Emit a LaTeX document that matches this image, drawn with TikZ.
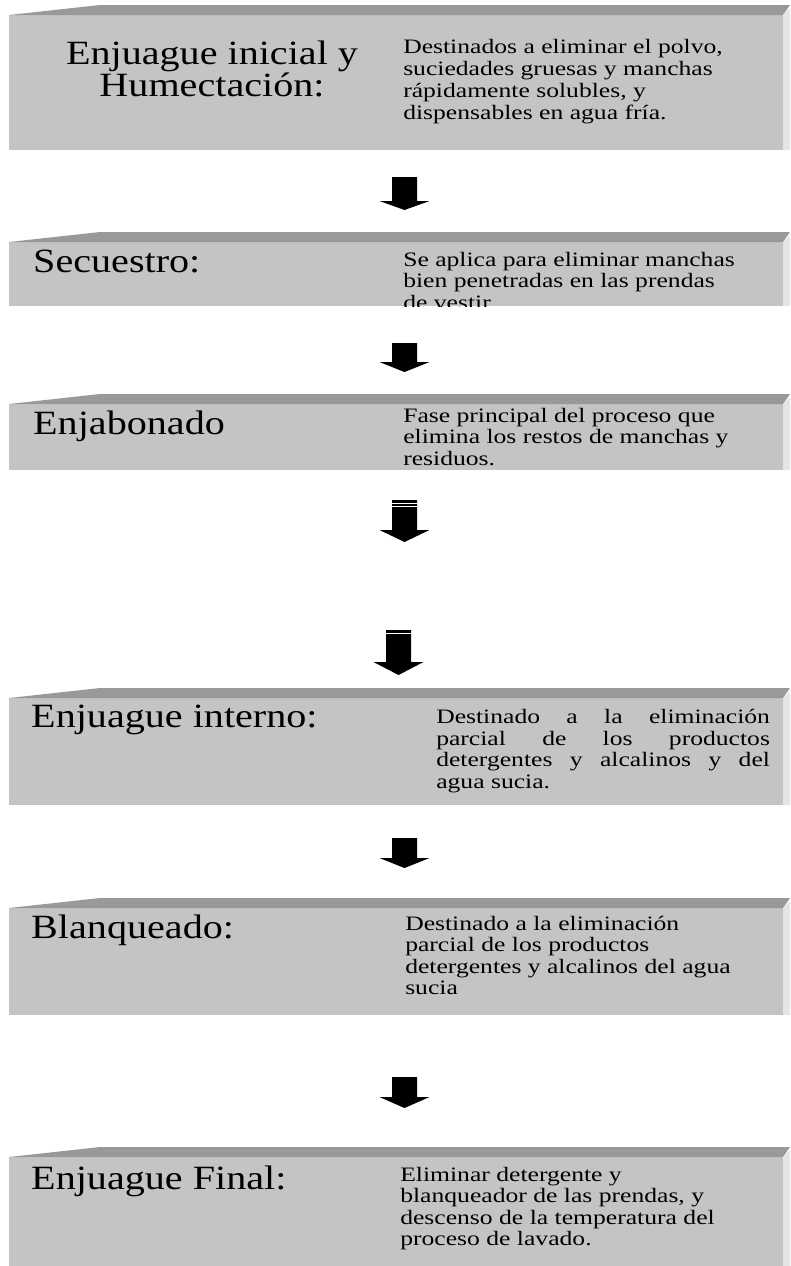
\documentclass[tikz,border=0pt]{standalone}
\usepackage{fontspec}
\setmainfont{Liberation Serif}
\begin{document}
\begin{tikzpicture}[x=1pt,y=-1pt,
  frontface/.style={fill=black!23},
  topface/.style={fill=black!40},
  sideface/.style={fill=black!10},
  title/.style={font=\fontsize{34}{29}\selectfont, inner sep=0pt, xscale=1.18},
  desc/.style={font=\fontsize{20.5}{21.5}\selectfont, inner sep=0pt, xscale=1.25, align=left},
  blockarrow/.style={fill=black}
]
\useasboundingbox (0,0) rectangle (790,1266);

% a bevelled panel: #1 = top of the front face, #2 = bottom of the front face
\newcommand\panel[2]{%
  \fill[frontface] (9,#1) rectangle (783,#2);
  \fill[topface] (9,#1) -- (100,#1-10) -- (790,#1-10) -- (783,#1) -- cycle;
  \fill[sideface] (783,#1) -- (790,#1-7) -- (790,#2) -- (783,#2) -- cycle;}

% a downward block arrow: #1 = centre x, #2 = top, #3 = top of head, #4 = tip
\newcommand\blockdown[4]{%
  \fill[blockarrow] (#1-12.5,#2) -- (#1+12.5,#2) -- (#1+12.5,#3) -- (#1+25,#3)
    -- (#1,#4) -- (#1-25,#3) -- (#1-12.5,#3) -- cycle;}

% multi-line nodes are placed by the baseline of their last line

% 1: Enjuague inicial y Humectacion
\panel{15}{150}
\node[title, align=center, anchor=base] (t1) at (212,96)
  {Enjuague inicial y\\Humectación:};
\node[desc, font=\fontsize{20.5}{22}\selectfont, anchor=base west] (d1) at (403,119)
  {Destinados a eliminar el polvo,\\suciedades gruesas y manchas\\rápidamente solubles, y\\dispensables en agua fría.};

\blockdown{404.5}{177}{201}{210}

% 2: Secuestro
\panel{242}{306}
\node[title, anchor=base west] (t2) at (33,272) {Secuestro:};
\begin{scope}
  \clip (9,242) rectangle (783,306);
  \node[desc, anchor=base west] (d2) at (403,309)
    {Se aplica para eliminar manchas\\bien penetradas en las prendas\\de vestir};
\end{scope}

\blockdown{404.5}{343}{362}{372}

% 3: Enjabonado
\panel{404}{470}
\node[title, anchor=base west] (t3) at (33,434) {Enjabonado};
\node[desc, anchor=base west] (d3) at (403,465)
  {Fase principal del proceso que\\elimina los restos de manchas y\\residuos.};

\blockdown{404.5}{500}{530}{542}
\draw[white, line width=0.6pt] (392,503) -- (417,503) (392,506) -- (417,506);
\blockdown{398.5}{630}{662}{675}
\draw[white, line width=0.6pt] (386,633) -- (411,633);

% 4: Enjuague interno
\panel{698}{805}
\node[title, anchor=base west] (t4) at (31,727) {Enjuague interno:};
\node[desc, anchor=base west] (d4) at (436,788)
  {\makebox[267pt][s]{Destinado a la eliminación}\\
   \makebox[267pt][s]{parcial de los productos}\\
   \makebox[267pt][s]{detergentes y alcalinos y del}\\
   agua sucia.};

\blockdown{404.5}{838}{858}{868}

% 5: Blanqueado
\panel{908}{1015}
\node[title, anchor=base west] (t5) at (31,938) {Blanqueado:};
\node[desc, anchor=base west] (d5) at (405,994.5)
  {Destinado a la eliminación\\parcial de los productos\\detergentes y alcalinos del agua\\sucia};

\blockdown{404.5}{1077}{1097}{1108}

% 6: Enjuague Final
\panel{1157}{1266}
\node[title, anchor=base west] (t6) at (31,1189) {Enjuague Final:};
\node[desc, anchor=base west] (d6) at (400,1245.5)
  {Eliminar detergente y\\blanqueador de las prendas, y\\descenso de la temperatura del\\proceso de lavado.};
\end{tikzpicture}
\end{document}
